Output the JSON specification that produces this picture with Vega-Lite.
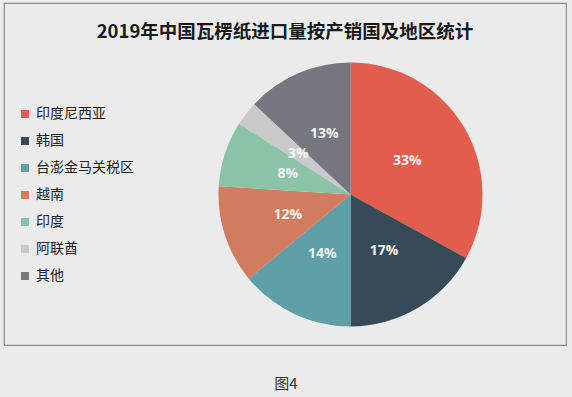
{
  "$schema": "https://vega.github.io/schema/vega-lite/v6.json",
  "autosize": "none",
  "width": 562,
  "height": 342,
  "padding": {"left": 4, "top": 3, "right": 6, "bottom": 52},
  "background": "#EBEBEB",
  "view": {"stroke": "#8A8A8A", "strokeWidth": 1.2, "fill": "#EBEBEB"},
  "title": {
    "text": "2019年中国瓦楞纸进口量按产销国及地区统计",
    "orient": "top",
    "anchor": "middle",
    "offset": -38,
    "font": "Noto Sans CJK SC",
    "fontSize": 18.5,
    "fontWeight": "bold",
    "color": "#1A1A1A"
  },
  "config": {
    "view": {"stroke": "#8A8A8A", "strokeWidth": 1.2, "fill": "#EBEBEB"},
    "font": "Noto Sans CJK SC"
  },
  "data": {
    "values": [
      {"region": "印度尼西亚", "share": 33, "order": 1, "label": "33%"},
      {"region": "韩国", "share": 17, "order": 2, "label": "17%"},
      {"region": "台澎金马关税区", "share": 14, "order": 3, "label": "14%"},
      {"region": "越南", "share": 12, "order": 4, "label": "12%"},
      {"region": "印度", "share": 8, "order": 5, "label": "8%"},
      {"region": "阿联酋", "share": 3, "order": 6, "label": "3%"},
      {"region": "其他", "share": 13, "order": 7, "label": "13%"}
    ]
  },
  "layer": [
    {
      "mark": {"type": "arc", "outerRadius": 132, "x": {"expr": "width - 215.5"}, "y": {"expr": "height / 2 + 20.5"}},
      "encoding": {
        "theta": {"field": "share", "type": "quantitative", "stack": true},
        "order": {"field": "order", "type": "quantitative"},
        "color": {
          "field": "region",
          "type": "nominal",
          "scale": {
            "domain": ["印度尼西亚", "韩国", "台澎金马关税区", "越南", "印度", "阿联酋", "其他"],
            "range": ["#E35D4E", "#364A58", "#5E9FA8", "#D17B5F", "#8BC3A7", "#C9C9C9", "#75767E"]
          },
          "legend": {
            "title": null,
            "orient": "none",
            "legendX": 14,
            "legendY": 104,
            "symbolType": "square",
            "symbolSize": 64,
            "symbolStrokeWidth": 0,
            "labelFontSize": 14,
            "labelColor": "#222222",
            "labelFont": "Noto Sans CJK SC",
            "labelOffset": 4,
            "rowPadding": 13
          }
        }
      }
    },
    {
      "mark": {"type": "text", "radius": 66, "x": {"expr": "width - 215.5"}, "y": {"expr": "height / 2 + 20.5"}, "font": "Open Sans", "fontSize": 14, "fontWeight": "bold", "color": "#F4F4F4"},
      "encoding": {
        "theta": {"field": "share", "type": "quantitative", "stack": true},
        "order": {"field": "order", "type": "quantitative"},
        "text": {"field": "label", "type": "nominal"}
      }
    },
    {
      "data": {"values": [{"caption": "图4"}]},
      "mark": {"type": "text", "x": {"expr": "width / 2 + 1"}, "y": {"expr": "height + 39"}, "fontSize": 15, "color": "#333333", "font": "Noto Sans CJK SC"},
      "encoding": {
        "text": {"field": "caption", "type": "nominal"}
      }
    }
  ]
}
